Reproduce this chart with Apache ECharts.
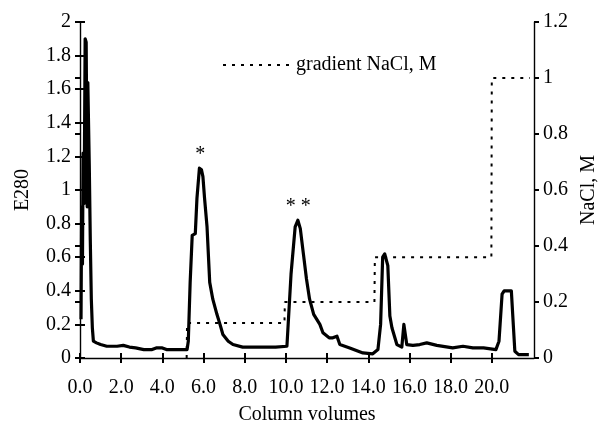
<!DOCTYPE html>
<html>
<head>
<meta charset="utf-8">
<script src="https://cdn.jsdelivr.net/npm/echarts@6/dist/echarts.min.js"></script>
<style>html,body{margin:0;padding:0;background:#fff;}#c{width:598px;height:423px;}</style>
</head>
<body>
<div id="c"></div>
<script>
// Column volumes (x) and E280 absorbance (y)
const e280X = [0.05,0.08,0.12,0.15,0.2,0.25,0.3,0.35,0.38,0.45,0.5,0.55,0.6,0.65,0.8,1.0,1.3,1.8,2.1,2.4,2.7,3.1,3.5,3.7,4.0,4.2,4.6,5.0,5.2,
  5.26,5.35,5.45,5.6,5.68,5.8,5.9,5.97,6.05,6.17,6.3,6.45,6.65,6.8,6.94,7.2,7.43,7.9,8.5,9.5,10.05,
  10.1,10.25,10.45,10.58,10.7,10.85,11.0,11.15,11.35,11.65,11.8,12.1,12.28,12.48,12.62,13.1,13.74,14.22,14.47,
  14.6,14.7,14.8,14.95,15.05,15.15,15.39,15.63,15.73,15.87,16.17,16.5,16.84,17.33,18.1,18.6,19.08,19.6,20.2,
  20.35,20.5,20.6,20.95,21.02,21.12,21.3,21.5,21.8];
const e280Y = [0.23,0.9,0.56,1.22,0.92,1.9,1.88,0.9,1.64,1.15,0.7,0.35,0.18,0.1,0.09,0.08,0.07,0.07,0.075,0.065,0.06,0.05,0.05,0.06,0.06,0.05,0.05,0.05,0.05,
  0.1,0.45,0.73,0.74,0.95,1.13,1.12,1.08,0.95,0.78,0.45,0.35,0.26,0.2,0.14,0.1,0.08,0.065,0.065,0.065,0.07,
  0.08,0.5,0.78,0.82,0.77,0.62,0.47,0.35,0.26,0.2,0.15,0.12,0.12,0.13,0.08,0.06,0.03,0.025,0.05,
  0.2,0.6,0.62,0.55,0.25,0.18,0.08,0.065,0.2,0.08,0.075,0.08,0.09,0.075,0.06,0.07,0.06,0.06,0.05,
  0.1,0.38,0.4,0.4,0.25,0.04,0.02,0.02,0.02];
// NaCl gradient (M), step profile
const naclX = [5.18,5.2,9.93,9.95,14.3,14.32,19.98,20.0,21.85];
const naclY = [0,0.125,0.125,0.2,0.2,0.36,0.36,1.0,1.0];
// Peak annotations
const noteX = [5.84, 10.6];
const noteY = [1.13, 0.82];
const noteText = ['*', '* *'];
const xTicks = [0,2,4,6,8,10,12,14,16,18,20];
const xMax = 22.05;

const FONT = 'Liberation Serif';
const FS = 20;
const pair = (xs, ys) => xs.map((x, i) => [x, ys[i]]);
const mkLine = () => ({show: true, onZero: false, lineStyle: {color: '#000', width: 1.4}});
const mkTick = (inside) => ({show: true, inside: inside, length: 5, lineStyle: {color: '#000', width: 2}});
const lbl = () => ({show: true, color: '#000', fontFamily: FONT, fontSize: FS});
const nameStyle = () => ({color: '#000', fontFamily: FONT, fontSize: FS});

const chart = echarts.init(document.getElementById('c'), null, {renderer: 'canvas'});
chart.setOption({
  backgroundColor: '#fff',
  animation: false,
  grid: {left: 80, right: 64, top: 22, bottom: 65, containLabel: false, outerBoundsMode: 'none'},
  legend: {
    left: 217, top: 50, itemWidth: 68, itemHeight: 10,
    data: ['gradient NaCl, M'],
    itemStyle: {opacity: 0},
    textStyle: {color: '#000', fontFamily: FONT, fontSize: FS}
  },
  xAxis: [{
    type: 'value', min: 0, max: xMax,
    name: 'Column volumes', nameLocation: 'middle', nameGap: 47,
    nameTextStyle: nameStyle(),
    axisLine: mkLine(),
    axisTick: Object.assign(mkTick(false), {customValues: xTicks}),
    axisLabel: Object.assign({margin: 20, customValues: xTicks, formatter: v => v.toFixed(1)}, lbl()),
    splitLine: {show: false}
  }, {
    type: 'value', min: 0, max: xMax, position: 'bottom',
    axisLine: {show: false},
    axisTick: Object.assign(mkTick(true), {customValues: xTicks}),
    axisLabel: {show: false}, splitLine: {show: false}
  }],
  yAxis: [{
    type: 'value', min: 0, max: 2, interval: 0.2, position: 'left',
    name: 'E280', nameLocation: 'middle', nameGap: 47, nameRotate: 90,
    nameTextStyle: nameStyle(),
    axisLine: mkLine(),
    axisTick: mkTick(false),
    axisLabel: Object.assign({margin: 9}, lbl()),
    splitLine: {show: false}
  }, {
    type: 'value', min: 0, max: 1.2, interval: 0.2, position: 'right',
    name: 'NaCl, M', nameLocation: 'middle', nameGap: 44, nameRotate: 90,
    nameTextStyle: nameStyle(),
    axisLine: mkLine(),
    axisTick: mkTick(false),
    axisLabel: Object.assign({margin: 9}, lbl()),
    splitLine: {show: false}
  }, {
    type: 'value', min: 0, max: 2, interval: 0.2, position: 'left',
    axisLine: {show: false},
    axisTick: mkTick(true),
    axisLabel: {show: false}, splitLine: {show: false}
  }, {
    type: 'value', min: 0, max: 1.2, interval: 0.2, position: 'right',
    axisLine: {show: false},
    axisTick: mkTick(true),
    axisLabel: {show: false}, splitLine: {show: false}
  }],
  series: [{
    name: 'gradient NaCl, M', type: 'line', xAxisIndex: 0, yAxisIndex: 1,
    data: pair(naclX, naclY), symbol: 'none', z: 2,
    lineStyle: {color: '#000', width: 2, type: [3, 6]},
    itemStyle: {color: '#000'}
  }, {
    name: 'E280', type: 'line', xAxisIndex: 0, yAxisIndex: 0,
    data: pair(e280X, e280Y), symbol: 'none', z: 3,
    lineStyle: {color: '#000', width: 3.2, join: 'round'},
    itemStyle: {color: '#000'},
    markPoint: {
      symbol: 'circle', symbolSize: 1,
      itemStyle: {color: 'rgba(0,0,0,0)'},
      label: {show: true, position: 'top', distance: 3, color: '#000', fontFamily: FONT, fontSize: FS,
        formatter: p => p.name},
      data: noteX.map((x, i) => ({name: noteText[i], coord: [x, noteY[i]]}))
    }
  }]
});
</script>
</body>
</html>
